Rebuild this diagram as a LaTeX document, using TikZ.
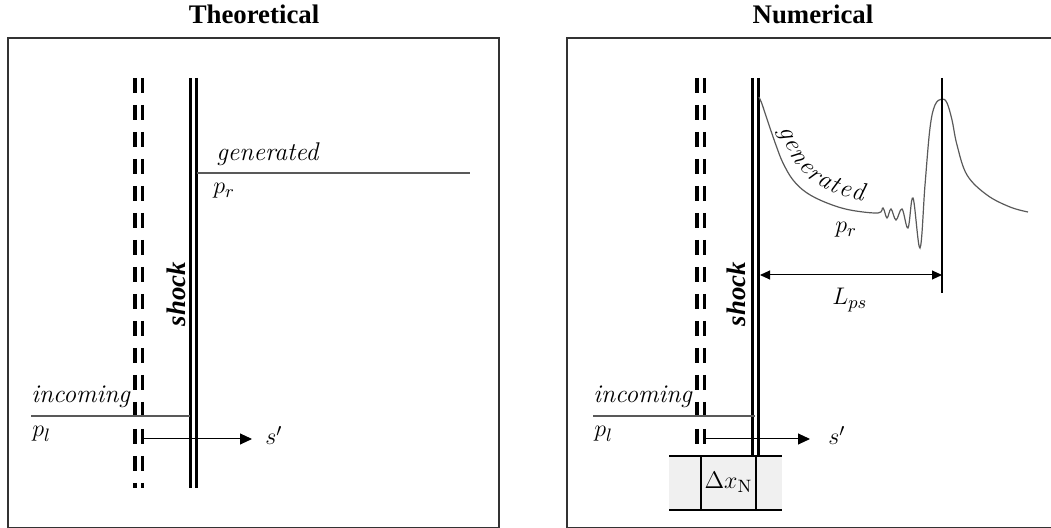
\documentclass[tikz,border=0pt]{standalone}
\usepackage{fontspec}
\usetikzlibrary{arrows.meta,decorations.text}
\newfontfamily\titlefont{Liberation Serif}
\newcommand{\lblfont}{\fontsize{12.8}{15}\selectfont}

\begin{document}
\begin{tikzpicture}[
  x=0.5pt, y=-0.5pt,
  panel/.style={draw=black!80, line width=0.8pt},
  ghost/.style={line width=1.8pt, dash pattern=on 7.5pt off 6pt},
  shockln/.style={line width=1.5pt},
  level/.style={draw=black!65, line width=0.6pt},
  lbl/.style={font=\lblfont, inner sep=0pt},
  ttl/.style={font=\titlefont\bfseries\fontsize{13.4}{15}\selectfont},
  shk/.style={font=\titlefont\bfseries\itshape\fontsize{13.4}{15}\selectfont, rotate=90},
  arr/.style={-{Triangle[length=6pt,width=5.5pt]}, line width=0.5pt},
  dim/.style={{Triangle[length=5pt,width=4.5pt]}-{Triangle[length=5pt,width=4.5pt]}, line width=0.5pt}
]
\useasboundingbox (0,0) rectangle (1051,528);

% theoretical panel
\node[ttl] (ttheo) at (254,14) {Theoretical};
\draw[panel] (8,38) rectangle (499,528);
\draw[ghost] (135,78) -- (135,488) (142.5,78) -- (142.5,488);
\draw[shockln] (190.5,78) -- (190.5,488) (196.5,78) -- (196.5,488);
\node[shk] (shk1) at (176,294) {shock};
\coordinate (g1a) at (197,173);
\coordinate (g1b) at (470,173);
\draw[level] (g1a) -- (g1b);
\node[lbl, anchor=base west] (gen1) at (216,161) {\itshape generated};
\node[lbl, anchor=base west] (pr1) at (213,194) {$p_r$};
\coordinate (i1a) at (31,416);
\coordinate (i1b) at (190,416);
\draw[level] (i1a) -- (i1b);
\node[lbl, anchor=base west] (inc1) at (31,403) {\itshape incoming};
\node[lbl, anchor=base west] (pl1) at (32,437) {$p_l$};
\coordinate (s1a) at (144,439);
\coordinate (s1b) at (252,439);
\draw[arr] (s1a) -- (s1b);
\node[lbl, anchor=base west] (sp1) at (265,445) {$s^{\prime}$};

% numerical panel
\node[ttl] (tnum) at (813,14) {Numerical};
\draw[panel] (567,38) rectangle (1052,528);
\fill[gray!12] (669,456) rectangle (782,510);
\begin{scope}[shift={(562,0)}]
  \draw[ghost] (135,78) -- (135,457) (142.5,78) -- (142.5,457);
  \draw[shockln] (190,78) -- (190,456) (196.5,78) -- (196.5,456);
  \node[shk] (shk2) at (174,294) {shock};
  \coordinate (i2a) at (31,416);
  \coordinate (i2b) at (193,416);
  \draw[level] (i2a) -- (i2b);
  \node[lbl, anchor=base west] (inc2) at (31,403) {\itshape incoming};
  \node[lbl, anchor=base west] (pl2) at (32,437) {$p_l$};
  \coordinate (s2a) at (144,439);
  \coordinate (s2b) at (248,439);
  \draw[arr] (s2a) -- (s2b);
  \node[lbl, anchor=base west] (sp2) at (266,445) {$s^{\prime}$};
\end{scope}

% cell below the shock
\draw[line width=0.9pt] (669,456) -- (782,456) (669,510) -- (782,510)
  (701,456) -- (701,510) (756,456) -- (756,510);
\node[lbl] (dx) at (728.5,482) {$\Delta x_{\mathrm{N}}$};

% pressure behind the shock
\draw[level] plot[smooth, tension=0.6] coordinates {(759,97) (762,104) (765,113) (770,128)
  (777,148) (783,163) (793,180) (807,193) (827,203) (850,210) (878,213) (883,208) (887,218)
  (891,209) (896,220) (902,209) (908,228) (913,198) (920,248) (925,185) (930,128) (935,105)
  (942,99) (947,103) (952,120) (957,145) (967,175) (987,195) (1010,207) (1028,212)};
\path[decorate, decoration={text along path, text={|\lblfont\itshape|generated}, text align=fit to path}]
  (780,129) .. controls (794,172) and (816,193) .. (863,201);
\node[lbl, anchor=base west] (pr2) at (835,233) {$p_r$};
\coordinate (pk) at (942,78);
\coordinate (pkb) at (942,293);
\draw[line width=0.75pt] (pk) -- (pkb);
\coordinate (lpsa) at (760,275);
\coordinate (lpsb) at (942,275);
\draw[dim] (lpsa) -- (lpsb);
\node[lbl, anchor=base west] (lps) at (832,305) {$L_{ps}$};
\end{tikzpicture}
\end{document}
